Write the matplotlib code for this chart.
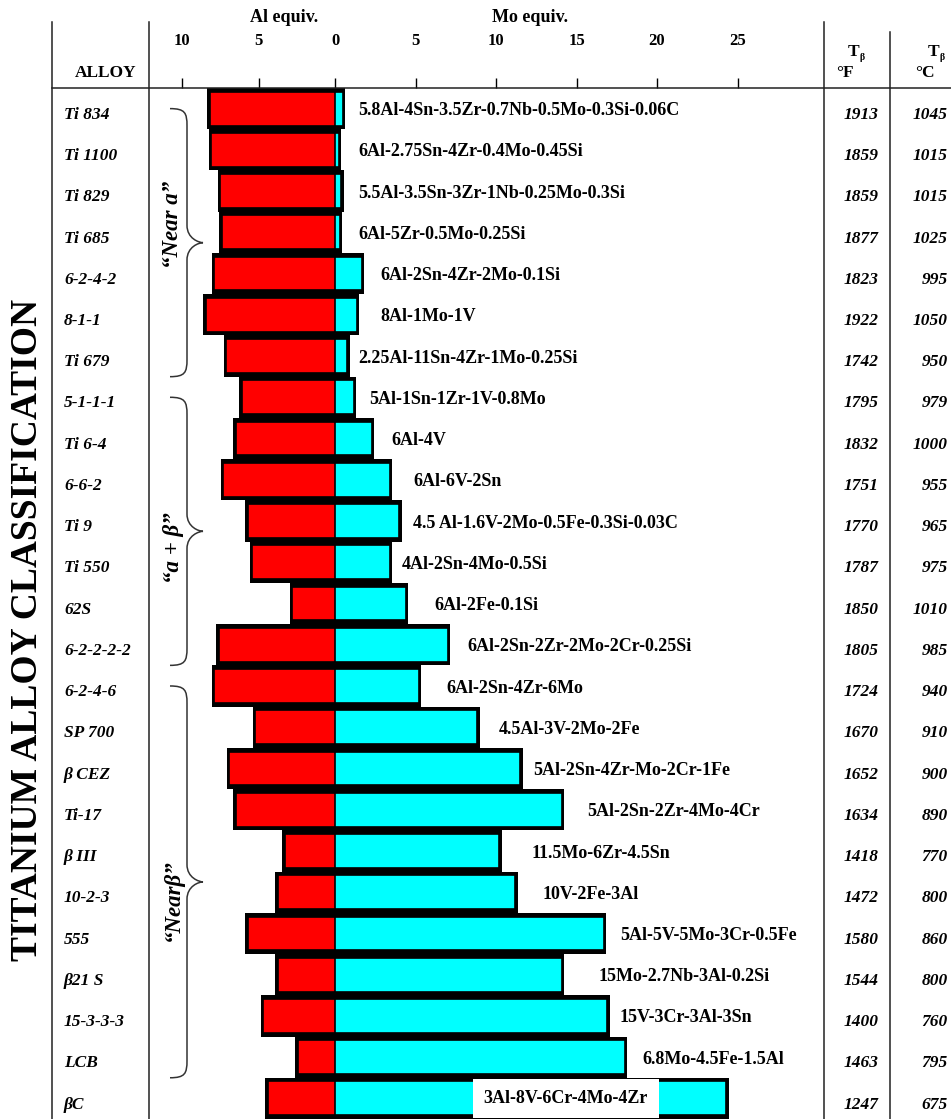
import matplotlib
matplotlib.use('Agg')
import matplotlib.pyplot as plt
from matplotlib.path import Path
from matplotlib.patches import PathPatch
import matplotlib.transforms as mtransforms

# ---------------- data ----------------
alloys = ["Ti 834", "Ti 1100", "Ti 829", "Ti 685", "6-2-4-2", "8-1-1", "Ti 679",
          "5-1-1-1", "Ti 6-4", "6-6-2", "Ti 9", "Ti 550", "62S", "6-2-2-2-2",
          "6-2-4-6", "SP 700", "β CEZ", "Ti-17", "β III", "10-2-3", "555",
          "β21 S", "15-3-3-3", "LCB", "βC"]
compositions = ["5.8Al-4Sn-3.5Zr-0.7Nb-0.5Mo-0.3Si-0.06C",
                "6Al-2.75Sn-4Zr-0.4Mo-0.45Si",
                "5.5Al-3.5Sn-3Zr-1Nb-0.25Mo-0.3Si",
                "6Al-5Zr-0.5Mo-0.25Si",
                "6Al-2Sn-4Zr-2Mo-0.1Si",
                "8Al-1Mo-1V",
                "2.25Al-11Sn-4Zr-1Mo-0.25Si",
                "5Al-1Sn-1Zr-1V-0.8Mo",
                "6Al-4V",
                "6Al-6V-2Sn",
                "4.5 Al-1.6V-2Mo-0.5Fe-0.3Si-0.03C",
                "4Al-2Sn-4Mo-0.5Si",
                "6Al-2Fe-0.1Si",
                "6Al-2Sn-2Zr-2Mo-2Cr-0.25Si",
                "6Al-2Sn-4Zr-6Mo",
                "4.5Al-3V-2Mo-2Fe",
                "5Al-2Sn-4Zr-Mo-2Cr-1Fe",
                "5Al-2Sn-2Zr-4Mo-4Cr",
                "11.5Mo-6Zr-4.5Sn",
                "10V-2Fe-3Al",
                "5Al-5V-5Mo-3Cr-0.5Fe",
                "15Mo-2.7Nb-3Al-0.2Si",
                "15V-3Cr-3Al-3Sn",
                "6.8Mo-4.5Fe-1.5Al",
                "3Al-8V-6Cr-4Mo-4Zr"]
al_equiv = [8.2, 8.1, 7.5, 7.4, 7.9, 8.45, 7.1, 6.1, 6.5, 7.3, 5.7, 5.4, 2.8, 7.6,
            7.9, 5.2, 6.9, 6.5, 3.3, 3.75, 5.7, 3.75, 4.7, 2.45, 4.4]
mo_equiv = [0.5, 0.25, 0.4, 0.3, 1.65, 1.35, 0.77, 1.18, 2.3, 3.4, 4.0, 3.4, 4.4, 7.0,
            5.2, 8.85, 11.5, 14.1, 10.2, 11.2, 16.7, 14.1, 16.9, 18.0, 24.3]
t_beta_f = [1913, 1859, 1859, 1877, 1823, 1922, 1742, 1795, 1832, 1751, 1770, 1787,
            1850, 1805, 1724, 1670, 1652, 1634, 1418, 1472, 1580, 1544, 1400, 1463, 1247]
t_beta_c = [1045, 1015, 1015, 1025, 995, 1050, 950, 979, 1000, 955, 965, 975,
            1010, 985, 940, 910, 900, 890, 770, 800, 860, 800, 760, 795, 675]
group_names = ["“Near a”", "“a + β”", "“Nearβ”"]
group_first = [0, 7, 14]
group_last = [6, 13, 23]
al_ticks = [10, 5]
mo_ticks = [0, 5, 10, 15, 20, 25]

# ---------------- layout (pixels) ----------------
W, H = 951, 1119
label_x_px = [358, 358, 358, 358, 380, 380, 358, 369, 391, 413, 413, 402, 434, 467,
              446, 499, 533, 587, 532, 543, 620, 599, 620, 642, 566]
group_label_rows = [2.8, 10.65, 19.2]

SERIF = 'Liberation Serif'
plt.rcParams['font.family'] = [SERIF, 'DejaVu Serif']

fig = plt.figure(figsize=(W / 100, H / 100), dpi=100)
fig.patch.set_facecolor('white')

x_left, x_zero, x_right = 149, 335, 824
y_top = 88
ax_al = fig.add_axes([x_left / W, 0, (x_zero - x_left) / W, 1 - y_top / H])
ax_mo = fig.add_axes([x_zero / W, 0, (x_right - x_zero) / W, 1 - y_top / H])

n = len(alloys)
rows = list(range(n))
ext = 0.15
for ax in (ax_al, ax_mo):
    ax.set_ylim(n - 0.5, -0.5)
    ax.set_facecolor('none')
    for s in ax.spines.values():
        s.set_visible(False)
    ax.set_yticks([])

# shadows first
ax_al.barh(rows, [v + ext for v in al_equiv], height=1.0, color='black', zorder=1)
ax_mo.barh(rows, [v + ext for v in mo_equiv], height=1.0, color='black', zorder=1)
ax_al.barh(rows, al_equiv, height=0.82, color='#FF0000', edgecolor='black', linewidth=1.2, zorder=2)
ax_mo.barh(rows, mo_equiv, height=0.82, color='#00FFFF', edgecolor='black', linewidth=1.2, zorder=2)

ax_al.set_xlim((x_zero - x_left) / 15.3, 0)
ax_mo.set_xlim(0, (x_right - x_zero) / 16.1)

for ax, ticks in ((ax_al, al_ticks), (ax_mo, mo_ticks)):
    ax.xaxis.set_ticks_position('top')
    ax.set_xticks(ticks)
    ax.set_xticklabels([str(t) for t in ticks])
    ax.tick_params(axis='x', direction='out', length=7.2, width=1.0, color='black',
                   pad=21, labelsize=12)
    for lab in ax.get_xticklabels():
        lab.set_fontweight('bold')
        lab.set_family(SERIF)

# transforms
tpx = mtransforms.Affine2D().scale(1 / W, -1 / H).translate(0, 1) + fig.transFigure
xpx = mtransforms.Affine2D().scale(1 / W, 1) + fig.transFigure
trow = mtransforms.blended_transform_factory(xpx, ax_mo.transData)

# table lines
def vline(x, y0, y1):
    fig.add_artist(plt.Line2D([x, x], [y0, y1], transform=tpx, color='#222222', lw=1.1))

vline(52, 22, H)
vline(149, 22, H)
vline(824, 22, H)
vline(890, 32, H)
fig.add_artist(plt.Line2D([52, W], [y_top, y_top], transform=tpx, color='#222222', lw=1.1))

# header texts
hdr = dict(family=SERIF, fontweight='bold', color='black', transform=tpx)
fig.text(106, 73, "ALLOY", fontsize=12.5, ha='center', va='center', **hdr)
fig.text(284, 18, "Al equiv.", fontsize=13, ha='center', va='center', **hdr)
fig.text(530, 18, "Mo equiv.", fontsize=13, ha='center', va='center', **hdr)
for xc, unit in ((853, "°F"), (933, "°C")):
    fig.text(xc, 52, "T", fontsize=12.5, ha='center', va='center', **hdr)
    fig.text(xc + 9, 57, "β", fontsize=7, ha='center', va='center', **hdr)
    fig.text(xc - 8, 73, unit, fontsize=12.5, ha='center', va='center', **hdr)

# title
fig.text(28, 630, "TITANIUM ALLOY CLASSIFICATION", fontsize=27, rotation=90,
         ha='center', va='center', **hdr)

# row texts
toff = 0.15
for i in rows:
    fig.text(64, i + toff, alloys[i], fontsize=12.5, fontweight='bold', fontstyle='italic',
             ha='left', va='center', family=SERIF, transform=trow)
    fig.text(861, i + toff, str(t_beta_f[i]), fontsize=12.5, fontweight='bold',
             fontstyle='italic', ha='center', va='center', family=SERIF, transform=trow)
    fig.text(948, i + toff, str(t_beta_c[i]), fontsize=12.5, fontweight='bold',
             fontstyle='italic', ha='right', va='center', family=SERIF, transform=trow)
    if i == n - 1:
        fig.text(label_x_px[i], i, compositions[i], fontsize=13, fontweight='bold',
                 ha='center', va='center', family=SERIF, transform=trow, zorder=5,
                 bbox=dict(boxstyle='square,pad=0.6', facecolor='white', edgecolor='none'))
    else:
        fig.text(label_x_px[i], i + 0.05, compositions[i], fontsize=13, fontweight='bold',
                 ha='left', va='center', family=SERIF, transform=trow, zorder=5)

# braces
xs, xe, xt, r = 187, 170, 203, 0.42
for name, g0, g1, ly in zip(group_names, group_first, group_last, group_label_rows):
    y0 = g0
    y1 = g1 + 0.5
    ym = (y0 + y1) / 2
    verts = [(xe, y0), (xs - 2, y0), (xs, y0 + 0.1), (xs, y0 + r),
             (xs, ym - r),
             (xs, ym - 0.1), (xt - 4, ym), (xt, ym),
             (xt - 4, ym), (xs, ym + 0.1), (xs, ym + r),
             (xs, y1 - r),
             (xs, y1 - 0.1), (xs - 2, y1), (xe, y1)]
    codes = [Path.MOVETO, Path.CURVE4, Path.CURVE4, Path.CURVE4,
             Path.LINETO,
             Path.CURVE4, Path.CURVE4, Path.CURVE4,
             Path.CURVE4, Path.CURVE4, Path.CURVE4,
             Path.LINETO,
             Path.CURVE4, Path.CURVE4, Path.CURVE4]
    fig.add_artist(PathPatch(Path(verts, codes), transform=trow, facecolor='none',
                             edgecolor='#333333', lw=1.1))
    fig.text(173, ly, name, fontsize=16.5, fontweight='bold', fontstyle='italic',
             rotation=90, ha='center', va='center', family=SERIF, transform=trow)

fig.savefig('out.png', dpi=100, facecolor='white')
